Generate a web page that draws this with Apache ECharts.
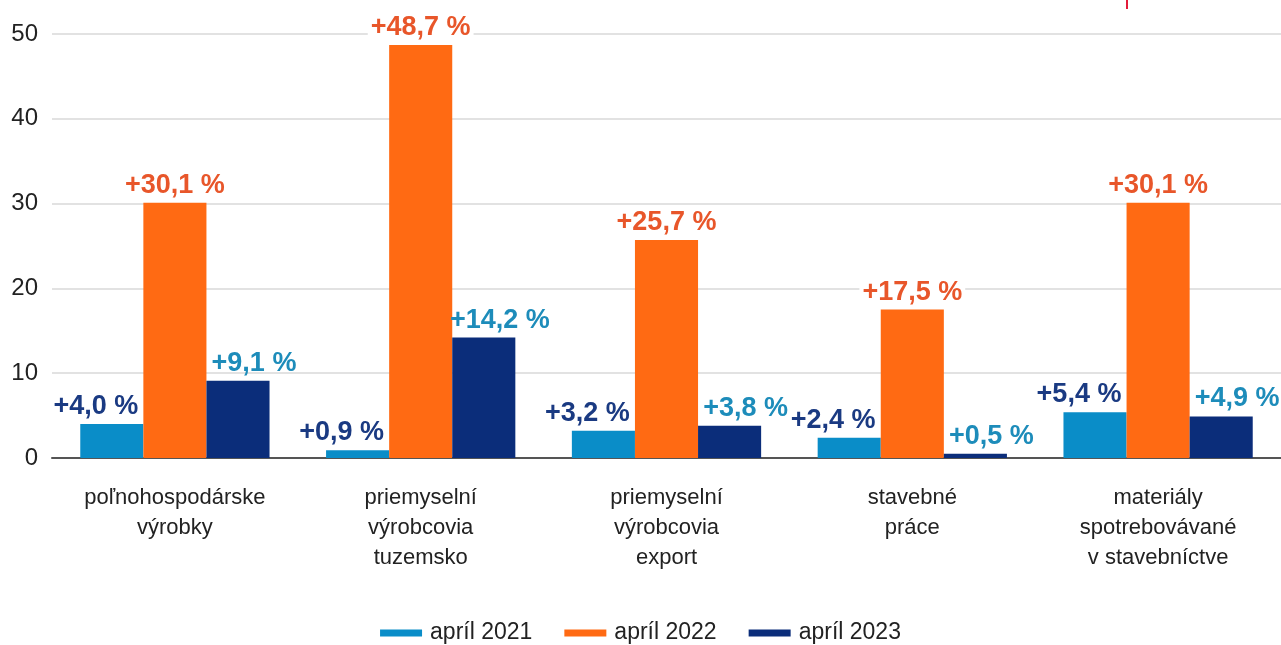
<!DOCTYPE html>
<html><head><meta charset="utf-8">
<script src="https://cdn.jsdelivr.net/npm/echarts@6/dist/echarts.min.js"></script>
<style>html,body{margin:0;padding:0;background:#fff}#c{width:1281px;height:645px}</style>
</head><body><div id="c"></div>
<script>
const categories = ['poľnohospodárske\nvýrobky', 'priemyselní\nvýrobcovia\ntuzemsko', 'priemyselní\nvýrobcovia\nexport', 'stavebné\npráce', 'materiály\nspotrebovávané\nv stavebníctve'];
const seriesNames = ['apríl 2021', 'apríl 2022', 'apríl 2023'];
const apr2021 = [4.0, 0.9, 3.2, 2.4, 5.4];
const apr2022 = [30.1, 48.7, 25.7, 17.5, 30.1];
const apr2023 = [9.1, 14.2, 3.8, 0.5, 4.9];
const yTicks = [0, 10, 20, 30, 40, 50];

const barColors = ['#0a8dc8', '#ff6a13', '#0b2d7a'];
const labelColors = ['#1a3a82', '#e8562a', '#1d8cba'];
const labelOffsets = [[-16, 0], [0, 0], [16, 0]];
const fmt = p => '+' + p.value.toFixed(1).replace('.', ',') + ' %';
const FF = 'Liberation Sans, Arial, sans-serif';

const chart = echarts.init(document.getElementById('c'), null, {renderer: 'canvas'});
const dataSets = [apr2021, apr2022, apr2023];
chart.setOption({
  animation: false,
  textStyle: {fontFamily: FF},
  grid: {left: 52, right: 0, top: 34, bottom: 187},
  legend: {
    top: 616, left: 'center', itemWidth: 42, itemHeight: 7, itemGap: 32,
    icon: 'rect',
    textStyle: {fontSize: 23, lineHeight: 24, color: '#222', fontFamily: FF, padding: [0, 0, 0, 3]},
    data: seriesNames
  },
  xAxis: {
    type: 'category', data: categories,
    axisTick: {show: false},
    axisLine: {lineStyle: {color: '#555', width: 2}},
    axisLabel: {fontSize: 22, color: '#222', lineHeight: 30, margin: 25, interval: 0}
  },
  yAxis: {
    type: 'value', min: yTicks[0], max: yTicks[yTicks.length - 1], interval: 10,
    axisLine: {show: false}, axisTick: {show: false},
    splitLine: {lineStyle: {color: '#d9d9d9', width: 1.5}},
    axisLabel: {fontSize: 24, color: '#222', margin: 14}
  },
  series: dataSets.map((d, i) => ({
    name: seriesNames[i], type: 'bar', data: d,
    barGap: '0%', barCategoryGap: '23%',
    itemStyle: {color: barColors[i]},
    label: {
      show: true, position: 'top', distance: 4, offset: labelOffsets[i],
      formatter: fmt, fontSize: 27, fontWeight: 'bold', color: labelColors[i],
      fontFamily: FF,
      backgroundColor: i === 1 ? '#fff' : 'transparent', padding: [0, 3]
    }
  })),
  graphic: [{type: 'rect', left: 1126, top: 0, shape: {width: 2, height: 9}, style: {fill: '#e31b3a'}}]
});
</script></body></html>
